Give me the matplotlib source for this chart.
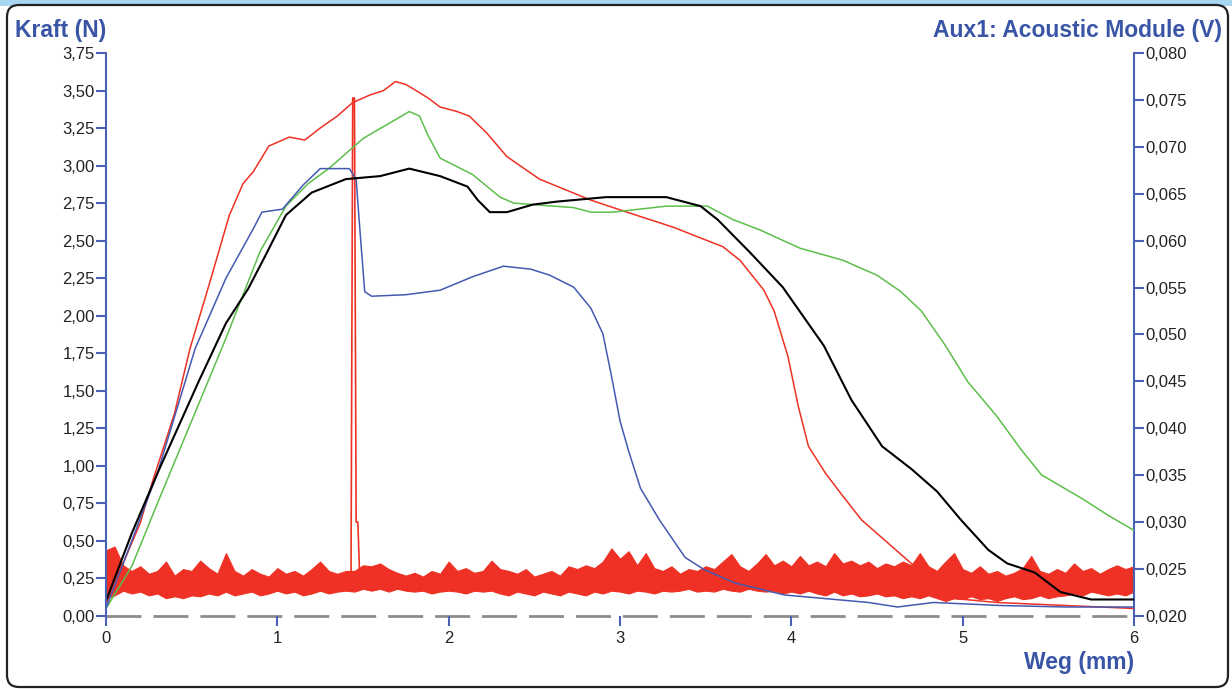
import matplotlib.pyplot as plt
from matplotlib.patches import FancyBboxPatch, Rectangle
from matplotlib.transforms import IdentityTransform
from matplotlib.ticker import FuncFormatter, MultipleLocator

plt.rcParams['font.family'] = ['Liberation Sans', 'DejaVu Sans']

# force curves, Weg (mm) / Kraft (N)
red_x = [0, 0.1, 0.2, 0.27, 0.4, 0.49, 0.6, 0.72, 0.8, 0.86, 0.95, 1.07, 1.16, 1.25, 1.35, 1.44,
         1.54, 1.62, 1.69, 1.75, 1.81, 1.88, 1.95, 2.05, 2.12, 2.22, 2.34, 2.53, 2.83, 3.04, 3.31,
         3.6, 3.7, 3.84, 3.9, 3.98, 4.04, 4.1, 4.2, 4.3, 4.41, 4.55, 4.68, 4.8, 4.92, 5.2, 5.6, 6.0]
red_y = [0.08, 0.35, 0.62, 0.89, 1.35, 1.78, 2.2, 2.67, 2.88, 2.96, 3.13, 3.19, 3.17, 3.25, 3.33, 3.42,
         3.47, 3.5, 3.56, 3.54, 3.50, 3.45, 3.39, 3.36, 3.33, 3.22, 3.06, 2.91, 2.77, 2.69, 2.59,
         2.46, 2.37, 2.17, 2.03, 1.73, 1.40, 1.13, 0.95, 0.80, 0.64, 0.50, 0.37, 0.25, 0.12, 0.09, 0.07, 0.05]

green_x = [0, 0.15, 0.3, 0.5, 0.7, 0.9, 1.05, 1.18, 1.3, 1.5, 1.65, 1.77, 1.83, 1.88, 1.95, 2.14,
           2.3, 2.38, 2.73, 2.83, 2.96, 3.27, 3.51, 3.66, 3.82, 4.05, 4.3, 4.5, 4.64, 4.76, 4.9,
           5.03, 5.2, 5.34, 5.46, 5.7, 5.85, 6.0]
green_y = [0.05, 0.33, 0.75, 1.3, 1.85, 2.43, 2.73, 2.88, 2.98, 3.18, 3.28, 3.36, 3.33, 3.2, 3.05, 2.94,
           2.79, 2.75, 2.72, 2.69, 2.69, 2.73, 2.73, 2.64, 2.57, 2.45, 2.37, 2.27, 2.16, 2.03, 1.80,
           1.56, 1.33, 1.11, 0.94, 0.78, 0.67, 0.57]

black_x = [0, 0.15, 0.3, 0.54, 0.7, 0.83, 0.93, 1.05, 1.2, 1.4, 1.6, 1.77, 1.95, 2.11, 2.17, 2.24,
           2.34, 2.49, 2.63, 2.92, 3.27, 3.47, 3.57, 3.76, 3.95, 4.19, 4.35, 4.53, 4.7, 4.85, 4.99,
           5.15, 5.26, 5.42, 5.57, 5.75, 6.0]
black_y = [0.1, 0.55, 0.95, 1.56, 1.95, 2.18, 2.40, 2.67, 2.82, 2.91, 2.93, 2.98, 2.93, 2.86, 2.77, 2.69,
           2.69, 2.74, 2.76, 2.79, 2.79, 2.73, 2.64, 2.42, 2.19, 1.80, 1.44, 1.13, 0.98, 0.83, 0.64,
           0.44, 0.35, 0.29, 0.16, 0.11, 0.11]

blue_x = [0, 0.15, 0.3, 0.52, 0.7, 0.86, 0.91, 1.03, 1.15, 1.25, 1.42, 1.46, 1.48, 1.51, 1.55, 1.75,
          1.95, 2.14, 2.32, 2.48, 2.59, 2.73, 2.83, 2.9, 2.95, 3.0, 3.05, 3.12, 3.23, 3.38, 3.49,
          3.67, 3.96, 4.06, 4.45, 4.62, 4.83, 5.22, 5.6, 6.0]
blue_y = [0.05, 0.5, 0.95, 1.78, 2.25, 2.58, 2.69, 2.71, 2.87, 2.98, 2.98, 2.91, 2.6, 2.16, 2.13, 2.14,
          2.17, 2.26, 2.33, 2.31, 2.27, 2.19, 2.05, 1.88, 1.6, 1.3, 1.1, 0.85, 0.64, 0.39, 0.31,
          0.22, 0.14, 0.13, 0.09, 0.06, 0.09, 0.07, 0.06, 0.06]

# acoustic signal (V): upper / lower envelope of the noisy trace every 0.05 mm, plus the spike
ac_upper = [0.0270, 0.0274, 0.0254, 0.0248, 0.0253, 0.0245, 0.0248, 0.0258, 0.0243, 0.0250,
            0.0248, 0.0259, 0.0251, 0.0245, 0.0267, 0.0248, 0.0243, 0.0250, 0.0245, 0.0242,
            0.0251, 0.0245, 0.0248, 0.0243, 0.0250, 0.0258, 0.0248, 0.0245, 0.0248, 0.0248,
            0.0254, 0.0253, 0.0256, 0.0250, 0.0246, 0.0243, 0.0246, 0.0242, 0.0248, 0.0245,
            0.0258, 0.0248, 0.0251, 0.0246, 0.0248, 0.0259, 0.0250, 0.0248, 0.0245, 0.0250,
            0.0242, 0.0245, 0.0248, 0.0243, 0.0253, 0.0250, 0.0254, 0.0251, 0.0258, 0.0272,
            0.0261, 0.0269, 0.0254, 0.0267, 0.0251, 0.0248, 0.0253, 0.0245, 0.0250, 0.0248,
            0.0253, 0.0250, 0.0258, 0.0266, 0.0253, 0.0248, 0.0256, 0.0266, 0.0254, 0.0259,
            0.0253, 0.0264, 0.0254, 0.0258, 0.0253, 0.0267, 0.0256, 0.0259, 0.0254, 0.0258,
            0.0251, 0.0256, 0.0253, 0.0258, 0.0254, 0.0267, 0.0253, 0.0248, 0.0258, 0.0267,
            0.0250, 0.0246, 0.0253, 0.0245, 0.0248, 0.0243, 0.0246, 0.0251, 0.0264, 0.0248,
            0.0245, 0.0250, 0.0246, 0.0256, 0.0248, 0.0251, 0.0245, 0.0250, 0.0254, 0.0250,
            0.0253]
ac_lower = [0.0219, 0.0222, 0.0227, 0.0224, 0.0226, 0.0222, 0.0224, 0.0219, 0.0221, 0.0219,
            0.0222, 0.0221, 0.0224, 0.0222, 0.0226, 0.0222, 0.0224, 0.0226, 0.0222, 0.0224,
            0.0227, 0.0224, 0.0226, 0.0222, 0.0224, 0.0227, 0.0224, 0.0226, 0.0227, 0.0226,
            0.0229, 0.0227, 0.0229, 0.0226, 0.0229, 0.0227, 0.0226, 0.0227, 0.0224, 0.0226,
            0.0227, 0.0226, 0.0224, 0.0227, 0.0226, 0.0227, 0.0224, 0.0222, 0.0226, 0.0224,
            0.0222, 0.0226, 0.0224, 0.0222, 0.0226, 0.0224, 0.0222, 0.0226, 0.0224, 0.0227,
            0.0226, 0.0224, 0.0227, 0.0226, 0.0224, 0.0227, 0.0226, 0.0227, 0.0229, 0.0226,
            0.0227, 0.0226, 0.0229, 0.0227, 0.0226, 0.0229, 0.0227, 0.0226, 0.0227, 0.0224,
            0.0226, 0.0224, 0.0227, 0.0224, 0.0222, 0.0226, 0.0222, 0.0224, 0.0221, 0.0222,
            0.0224, 0.0221, 0.0222, 0.0219, 0.0221, 0.0219, 0.0222, 0.0219, 0.0216, 0.0219,
            0.0218, 0.0221, 0.0218, 0.0219, 0.0216, 0.0219, 0.0221, 0.0218, 0.0219, 0.0222,
            0.0219, 0.0221, 0.0222, 0.0224, 0.0222, 0.0226, 0.0224, 0.0222, 0.0224, 0.0222,
            0.0226]
ac_x = [i * 0.05 for i in range(len(ac_upper))]
spike_x = [1.43, 1.44, 1.45, 1.46, 1.47, 1.48]
spike_v = [0.0240, 0.0752, 0.0752, 0.0300, 0.0300, 0.0245]

BLUE = '#4a62b3'
TXT_BLUE = '#3a55a6'
RED = '#ee3124'
GREEN = '#5cbf4a'
LINE_BLUE = '#4459b0'

fig = plt.figure(figsize=(12.32, 6.89), dpi=100)
fig.patches.append(Rectangle((0, 683), 1232, 6, transform=IdentityTransform(),
                             facecolor='#a8d5f0', edgecolor='none', zorder=-3))
fig.patches.append(FancyBboxPatch((7, 2), 1221, 682, boxstyle='round,pad=0,rounding_size=12',
                                  transform=IdentityTransform(), facecolor='white',
                                  edgecolor='#222222', linewidth=1.6, zorder=-2))

ax = fig.add_axes([106 / 1232, 1 - 616 / 689, 1028 / 1232, 563 / 689])
ax2 = ax.twinx()
ax.set_zorder(ax2.get_zorder() + 1)
ax.patch.set_visible(False)
ax2.patch.set_visible(False)

# acoustic trace on the right axis
ax2.fill_between(ac_x, ac_lower, ac_upper, color=RED, linewidth=0.8, edgecolor=RED)
ax2.plot(spike_x, spike_v, color=RED, linewidth=1.2)
ax2.set_ylim(0.020, 0.080)

# force curves
ax.plot(red_x, red_y, color=RED, linewidth=1.1)
ax.plot(green_x, green_y, color=GREEN, linewidth=1.1)
ax.plot(blue_x, blue_y, color=LINE_BLUE, linewidth=1.1)
ax.plot(black_x, black_y, color='black', linewidth=1.5)
ax.axhline(0, color='#8c8c8c', linewidth=2, linestyle=(0, (12.6, 4.3)), zorder=0, clip_on=False)

ax.set_xlim(0, 6)
ax.set_ylim(0, 3.75)
ax.xaxis.set_major_locator(MultipleLocator(1))
ax.yaxis.set_major_locator(MultipleLocator(0.25))
ax2.yaxis.set_major_locator(MultipleLocator(0.005))
ax.yaxis.set_major_formatter(FuncFormatter(lambda v, p: ('%.2f' % v).replace('.', ',')))
ax2.yaxis.set_major_formatter(FuncFormatter(lambda v, p: ('%.3f' % v).replace('.', ',')))
ax.xaxis.set_major_formatter(FuncFormatter(lambda v, p: '%d' % v))

for a in (ax, ax2):
    for s in a.spines.values():
        s.set_visible(False)
ax.spines['left'].set_visible(True)
ax.spines['left'].set_color(BLUE)
ax.spines['left'].set_linewidth(1.5)
ax2.spines['right'].set_visible(True)
ax2.spines['right'].set_color(BLUE)
ax2.spines['right'].set_linewidth(1.5)

ax.tick_params(axis='both', direction='out', length=7, width=1.5, color=BLUE,
               labelsize=12, labelcolor='#222222', pad=1)
ax.tick_params(axis='x', pad=4)
ax2.tick_params(axis='y', direction='out', length=7, width=1.5, color=BLUE,
                labelsize=12, labelcolor='#222222', pad=1)

fig.text(15 / 1232, 1 - 30 / 689, 'Kraft (N)', color=TXT_BLUE, fontsize=16.5,
         fontweight='bold', va='center', ha='left')
fig.text(1222 / 1232, 1 - 30 / 689, 'Aux1: Acoustic Module (V)', color=TXT_BLUE, fontsize=16.5,
         fontweight='bold', va='center', ha='right')
fig.text(1134 / 1232, 1 - 662 / 689, 'Weg (mm)', color=TXT_BLUE, fontsize=16.5,
         fontweight='bold', va='center', ha='right')

fig.savefig('out.png', dpi=100)
